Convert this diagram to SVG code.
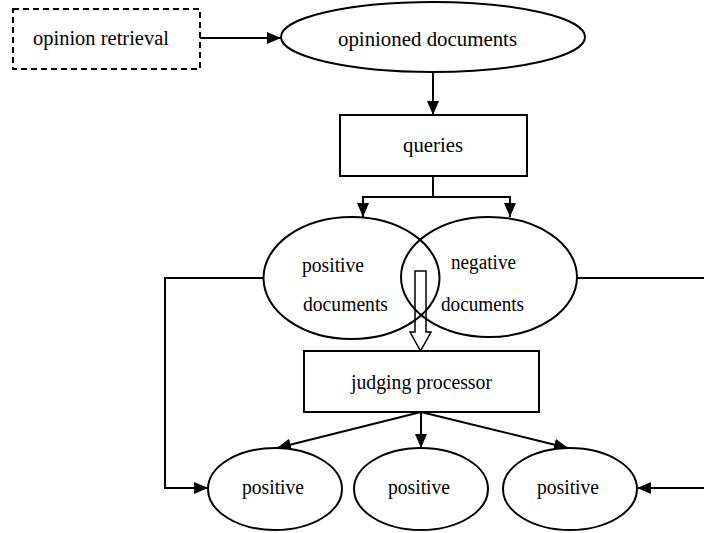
<svg xmlns="http://www.w3.org/2000/svg" width="704" height="533" viewBox="0 0 704 533">
<style>
.n{fill:#fff;stroke:#000;stroke-width:2}
.c{fill:none;stroke:#000;stroke-width:2}
.t{font-family:"Liberation Serif","Times New Roman",Times,serif;font-size:20.5px;fill:#000}
</style>
<defs>
<marker id="ah" markerUnits="userSpaceOnUse" markerWidth="14" markerHeight="12" refX="14" refY="6" orient="auto">
<path d="M0,0 L14,6 L0,12 Z" fill="#000"/>
</marker>
</defs>
<rect width="704" height="533" fill="#fff"/>
<g id="connectors">
<path class="c" d="M200,38 L281,38" marker-end="url(#ah)"/>
<path class="c" d="M433,72 L433,115" marker-end="url(#ah)"/>
<path class="c" d="M433,176 L433,197 M363,197 L510,197"/>
<path class="c" d="M363,196 L363,217" marker-end="url(#ah)"/>
<path class="c" d="M510,196 L510,217" marker-end="url(#ah)"/>
<path class="c" d="M263,278 L165,278 L165,488 L208,488" marker-end="url(#ah)"/>
<path class="c" d="M577,278 L704,278 M704,488 L637,488" marker-end="url(#ah)"/>
<path fill="#fff" stroke="#000" stroke-width="1.5" d="M415,271 L426,271 L426,332 L431,332 L420.5,351 L410,332 L415,332 Z"/>
<path class="c" d="M421,412 L277,448" marker-end="url(#ah)"/>
<path class="c" d="M421,412 L421,448" marker-end="url(#ah)"/>
<path class="c" d="M421,412 L568,448" marker-end="url(#ah)"/>
</g>
<g id="opinion-retrieval">
<rect x="13" y="9" width="187" height="60" fill="#fff" stroke="#000" stroke-width="2" stroke-dasharray="6,4"/>
<text class="t" x="33" y="45" textLength="136" lengthAdjust="spacingAndGlyphs">opinion retrieval</text>
</g>
<g id="opinioned-documents">
<ellipse class="n" cx="433" cy="37" rx="152" ry="35"/>
<text class="t" x="338" y="46" textLength="179" lengthAdjust="spacingAndGlyphs">opinioned documents</text>
</g>
<g id="queries">
<rect class="n" x="340" y="115" width="187" height="61"/>
<text class="t" x="403" y="152" textLength="60" lengthAdjust="spacingAndGlyphs">queries</text>
</g>
<g id="positive-documents">
<ellipse fill="none" stroke="#000" stroke-width="2" cx="351.5" cy="278" rx="88" ry="61"/>
<text class="t" x="302" y="272" textLength="62" lengthAdjust="spacingAndGlyphs">positive</text>
<text class="t" x="303" y="311" textLength="85" lengthAdjust="spacingAndGlyphs">documents</text>
</g>
<g id="negative-documents">
<ellipse fill="none" stroke="#000" stroke-width="2" cx="489" cy="277" rx="88" ry="60"/>
<text class="t" x="451" y="269" textLength="65" lengthAdjust="spacingAndGlyphs">negative</text>
<text class="t" x="441" y="311" textLength="83" lengthAdjust="spacingAndGlyphs">documents</text>
</g>
<g id="judging-processor">
<rect class="n" x="304" y="351" width="235" height="61"/>
<text class="t" x="351" y="389" textLength="141" lengthAdjust="spacingAndGlyphs">judging processor</text>
</g>
<g id="positive-1">
<ellipse class="n" cx="275" cy="489" rx="67" ry="41"/>
<text class="t" x="242" y="494" textLength="62" lengthAdjust="spacingAndGlyphs">positive</text>
</g>
<g id="positive-2">
<ellipse class="n" cx="421" cy="489" rx="67" ry="41"/>
<text class="t" x="388" y="494" textLength="62" lengthAdjust="spacingAndGlyphs">positive</text>
</g>
<g id="positive-3">
<ellipse class="n" cx="570" cy="489" rx="67" ry="41"/>
<text class="t" x="537" y="494" textLength="62" lengthAdjust="spacingAndGlyphs">positive</text>
</g>
</svg>
